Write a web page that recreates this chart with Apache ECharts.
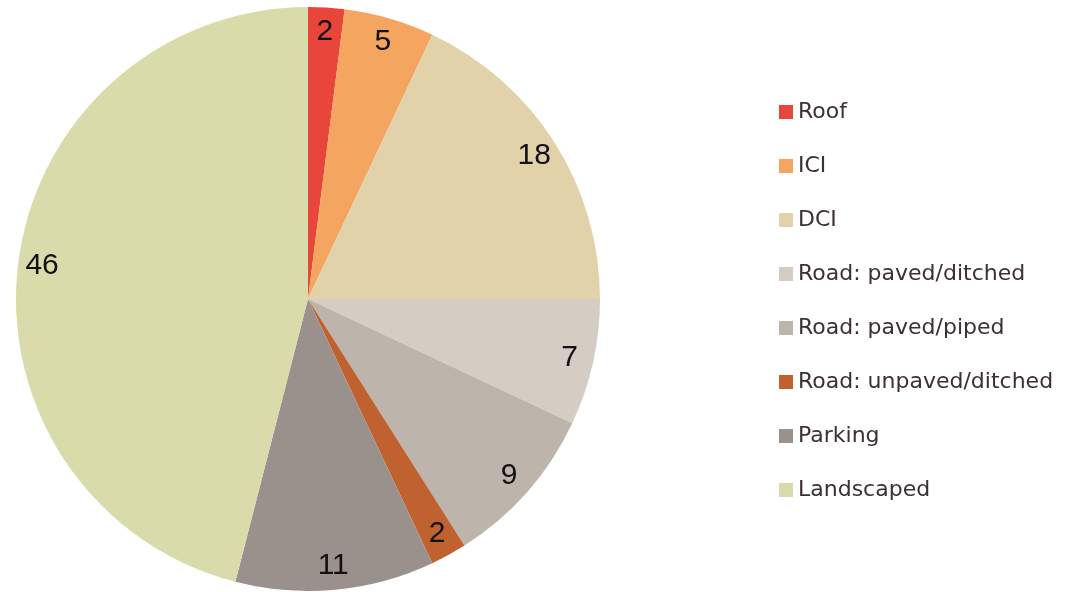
<!DOCTYPE html>
<html>
<head>
<meta charset="utf-8">
<script src="https://cdn.jsdelivr.net/npm/echarts@6/dist/echarts.min.js"></script>
<style>
  html, body { margin: 0; padding: 0; background: #fff; }
  #main { width: 1089px; height: 592px; }
</style>
</head>
<body>
<div id="main"></div>
<script>
// land cover shares (%), clockwise from 12 o'clock
const categories = ['Roof', 'ICI', 'DCI', 'Road: paved/ditched', 'Road: paved/piped',
    'Road: unpaved/ditched', 'Parking', 'Landscaped'];
const values = [2, 5, 18, 7, 9, 2, 11, 46];
const colors = ['#e8453b', '#f4a560', '#e2d2aa', '#d5cdc4', '#bdb4ab', '#c0622f', '#9b918c', '#d9dcaa'];

const chart = echarts.init(document.getElementById('main'));

const pieData = categories.map((name, i) => ({
    name: name,
    value: values[i],
    itemStyle: { color: colors[i] }
}));

const center = [308, 299];

chart.setOption({
    animation: false,
    legend: {
        orient: 'vertical',
        left: 774,
        top: 96,
        itemWidth: 14,
        itemHeight: 14,
        itemGap: 32,
        icon: 'rect',
        textStyle: {
            fontFamily: 'DejaVu Sans',
            fontSize: 22,
            lineHeight: 22,
            color: '#3b3035'
        },
        data: categories
    },
    series: [
        {
            type: 'pie',
            center: center,
            radius: [0, 292],
            startAngle: 90,
            clockwise: true,
            silent: true,
            label: { show: false },
            labelLine: { show: false },
            data: pieData
        },
        {
            // transparent ring used only to place labels near the rim
            type: 'pie',
            center: center,
            radius: [238, 292],
            startAngle: 90,
            clockwise: true,
            silent: true,
            legendHoverLink: false,
            itemStyle: { color: 'rgba(0,0,0,0)' },
            label: {
                show: true,
                position: 'inside',
                formatter: '{c}',
                fontFamily: 'Liberation Sans',
                fontSize: 30,
                color: '#111'
            },
            labelLine: { show: false },
            data: values.map((v, i) => ({ name: categories[i] + ' ', value: v }))
        }
    ]
});
</script>
</body>
</html>
